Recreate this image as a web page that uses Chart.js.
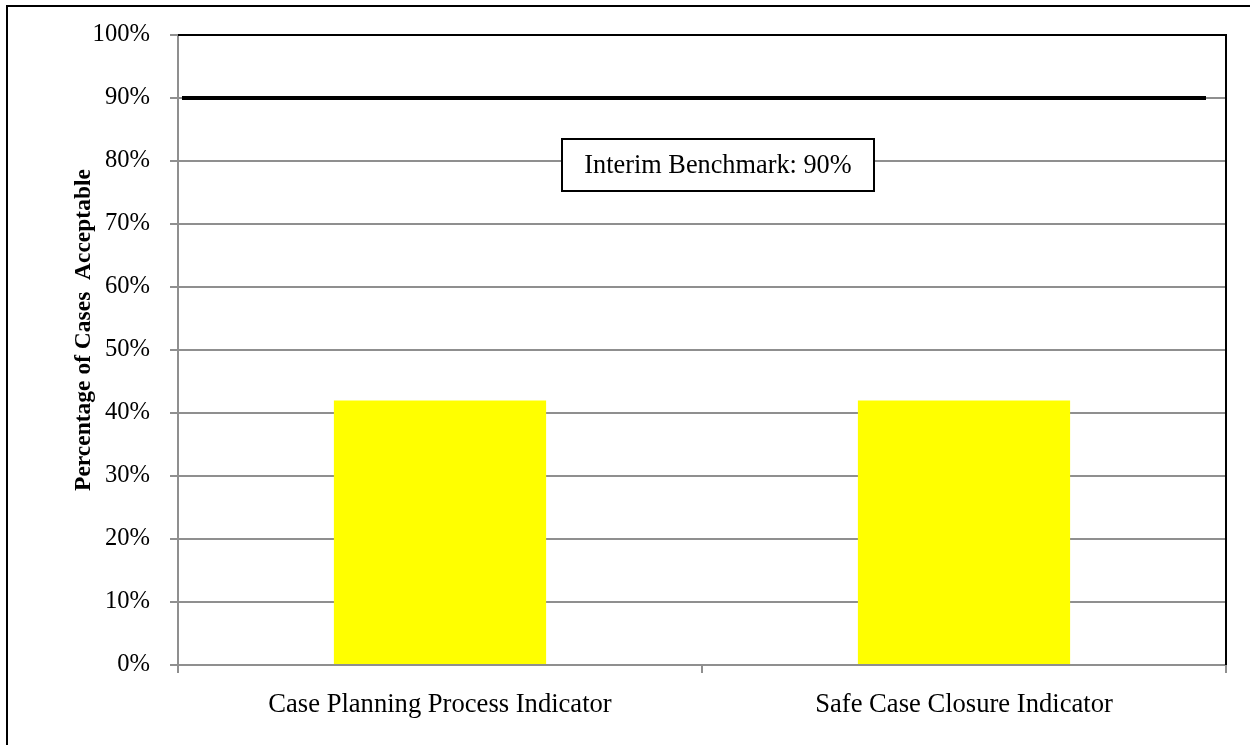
<!DOCTYPE html>
<html>
<head>
<meta charset="utf-8">
<script src="https://cdn.jsdelivr.net/npm/chart.js@4"></script>
<style>
  html, body { margin: 0; padding: 0; background: #fff; }
  #wrap { width: 1250px; height: 745px; position: relative; }
</style>
</head>
<body>
<div id="wrap"><canvas id="c"></canvas></div>
<script>
// Indicators and the share of cases rated acceptable for each
const categories = ['Case Planning Process Indicator', 'Safe Case Closure Indicator'];
const percentAcceptable = [42, 42];

// Target line and its caption
const benchmark = 90;
const benchmarkLabel = 'Interim Benchmark: 90%';

// Axis text
const yAxisTitle = 'Percentage of Cases  Acceptable';
const yTickValues = [0, 10, 20, 30, 40, 50, 60, 70, 80, 90, 100];

const SERIF = "'Liberation Serif', 'Times New Roman', serif";
const GRID = '#8f8f8f';

// Background, figure frame, plot border, benchmark line, caption and y title
const decor = {
  id: 'decor',
  beforeDraw(chart) {
    const { ctx, width, height } = chart;
    ctx.save();
    ctx.fillStyle = '#fff';
    ctx.fillRect(0, 0, width, height);
    ctx.restore();
  },
  afterDatasetsDraw(chart) {
    const { ctx, chartArea: a, scales: { y } } = chart;
    ctx.save();
    ctx.strokeStyle = '#000';

    // outer frame of the figure (left and top edges)
    ctx.lineWidth = 2;
    ctx.beginPath();
    ctx.moveTo(7, chart.height + 2);
    ctx.lineTo(7, 6);
    ctx.lineTo(chart.width + 2, 6);
    ctx.stroke();

    // plot border: top and right sides
    ctx.lineWidth = 2;
    ctx.beginPath();
    ctx.moveTo(a.left, a.top);
    ctx.lineTo(a.right, a.top);
    ctx.lineTo(a.right, a.bottom);
    ctx.stroke();

    // benchmark line
    const yb = y.getPixelForValue(benchmark);
    ctx.lineWidth = 4;
    ctx.beginPath();
    ctx.moveTo(a.left + 4, yb);
    ctx.lineTo(a.right - 20, yb);
    ctx.stroke();

    // caption box
    const bx = a.left + 384, by = a.top + 104, bw = 312, bh = 52;
    ctx.fillStyle = '#fff';
    ctx.fillRect(bx, by, bw, bh);
    ctx.lineWidth = 2;
    ctx.strokeRect(bx, by, bw, bh);
    ctx.fillStyle = '#000';
    ctx.font = `26.3px ${SERIF}`;
    ctx.textAlign = 'center';
    ctx.textBaseline = 'middle';
    ctx.fillText(benchmarkLabel, bx + bw / 2, by + bh / 2 + 1);

    // y-axis title
    ctx.translate(84, 330);
    ctx.rotate(-Math.PI / 2);
    ctx.font = `bold 23.5px ${SERIF}`;
    ctx.fillText(yAxisTitle, 0, 0);
    ctx.restore();
  }
};

new Chart(document.getElementById('c'), {
  type: 'bar',
  data: {
    labels: categories,
    datasets: [{
      data: percentAcceptable,
      backgroundColor: '#ffff00',
      borderWidth: 0,
      categoryPercentage: 1,
      barPercentage: 0.405
    }]
  },
  options: {
    responsive: true,
    maintainAspectRatio: false,
    animation: false,
    events: [],
    layout: { padding: { top: 35, right: 24, left: 0, bottom: 0 } },
    plugins: {
      legend: { display: false },
      tooltip: { enabled: false },
      title: { display: false }
    },
    scales: {
      x: {
        grid: {
          offset: true,
          drawOnChartArea: false,
          drawTicks: true,
          tickLength: 8,
          color: GRID,
          lineWidth: 2
        },
        border: { display: true, color: GRID, width: 2 },
        ticks: {
          color: '#000',
          padding: 16,
          maxRotation: 0,
          font: { family: SERIF, size: 26.6 }
        },
        afterFit(scale) { scale.height = 80; }
      },
      y: {
        min: 0,
        max: 100,
        afterBuildTicks(scale) { scale.ticks = yTickValues.map(v => ({ value: v })); },
        grid: {
          color: ctx => (ctx.tick && ctx.tick.value === 100 ? '#000' : GRID),
          lineWidth: 2,
          drawTicks: true,
          tickLength: 8,
          tickColor: GRID
        },
        border: { display: true, color: GRID, width: 2 },
        ticks: {
          color: '#000',
          padding: 20,
          callback: v => v + '%',
          font: { family: SERIF, size: 24.6 }
        },
        afterFit(scale) { scale.width = 178; }
      }
    }
  },
  plugins: [decor]
});
</script>
</body>
</html>
